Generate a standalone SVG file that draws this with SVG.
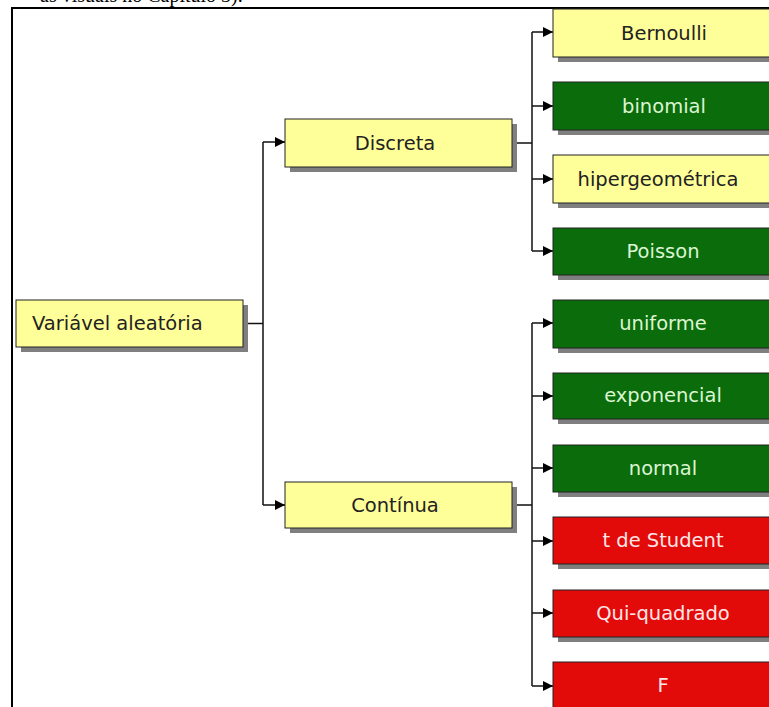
<svg xmlns="http://www.w3.org/2000/svg" width="769" height="707" viewBox="0 0 769 707">
<style>
.sh{fill:#7f7f7f}
.bx{stroke:#222;stroke-width:1}
.y{fill:#ffff99}
.g{fill:#0a6c0a}
.r{fill:#e30a0a}
.t{font-family:"DejaVu Sans",Verdana,sans-serif;font-size:19.5px}
.td{fill:#222}
.tg{fill:#dcf5d2}
.tr{fill:#ffe6e6}
.c{fill:none;stroke:#111;stroke-width:1.5}
</style>
<defs>
<marker id="ah" viewBox="0 0 10 10" refX="10" refY="5" markerWidth="12" markerHeight="10" markerUnits="userSpaceOnUse" orient="auto">
<path d="M0,0 L10,5 L0,10 z" fill="#000"/>
</marker>
</defs>
<rect width="769" height="707" fill="#fff"/>
<text x="40" y="2" style="font-family:'Liberation Serif',serif;font-size:20px" fill="#000">as visuais no Capítulo 3).</text>
<path d="M12,707 V8 H769" fill="none" stroke="#000" stroke-width="2"/>
<g id="connectors">
<path class="c" d="M243,323.5 H263 M263,142 V505 M512,143 H532 M532,32 V251 M532,323 V686 M512,505 H532"/>
<path class="c" marker-end="url(#ah)" d="M263,142 H285"/>
<path class="c" marker-end="url(#ah)" d="M263,505 H285"/>
<path class="c" marker-end="url(#ah)" d="M532,32 H553"/>
<path class="c" marker-end="url(#ah)" d="M532,106 H553"/>
<path class="c" marker-end="url(#ah)" d="M532,179 H553"/>
<path class="c" marker-end="url(#ah)" d="M532,251 H553"/>
<path class="c" marker-end="url(#ah)" d="M532,323 H553"/>
<path class="c" marker-end="url(#ah)" d="M532,396 H553"/>
<path class="c" marker-end="url(#ah)" d="M532,468 H553"/>
<path class="c" marker-end="url(#ah)" d="M532,541 H553"/>
<path class="c" marker-end="url(#ah)" d="M532,613 H553"/>
<path class="c" marker-end="url(#ah)" d="M532,686 H553"/>
</g>
<g id="n-variavel">
<rect class="sh" x="21" y="305" width="227" height="47"/>
<rect class="bx y" x="16" y="300" width="227" height="47"/>
<text class="t td" x="32" y="330">Variável aleatória</text>
</g>
<g id="n-discreta">
<rect class="sh" x="290" y="124" width="227" height="48"/>
<rect class="bx y" x="285" y="119" width="227" height="48"/>
<text class="t td" x="395" y="150" text-anchor="middle">Discreta</text>
</g>
<g id="n-continua">
<rect class="sh" x="290" y="487" width="227" height="46"/>
<rect class="bx y" x="285" y="482" width="227" height="46"/>
<text class="t td" x="395" y="512" text-anchor="middle">Contínua</text>
</g>
<g id="n-bernoulli">
<rect class="sh" x="558" y="14" width="230" height="48"/>
<rect class="bx y" x="553" y="9" width="230" height="48"/>
<text class="t td" x="664" y="40" text-anchor="middle">Bernoulli</text>
</g>
<g id="n-binomial">
<rect class="sh" x="558" y="87" width="230" height="48"/>
<rect class="bx g" x="553" y="82" width="230" height="48"/>
<text class="t tg" x="664" y="113" text-anchor="middle">binomial</text>
</g>
<g id="n-hiper">
<rect class="sh" x="558" y="160" width="230" height="48"/>
<rect class="bx y" x="553" y="155" width="230" height="48"/>
<text class="t td" x="658" y="186" text-anchor="middle">hipergeométrica</text>
</g>
<g id="n-poisson">
<rect class="sh" x="558" y="233" width="230" height="47"/>
<rect class="bx g" x="553" y="228" width="230" height="47"/>
<text class="t tg" x="663" y="258" text-anchor="middle">Poisson</text>
</g>
<g id="n-uniforme">
<rect class="sh" x="558" y="305" width="230" height="48"/>
<rect class="bx g" x="553" y="300" width="230" height="48"/>
<text class="t tg" x="663" y="330" text-anchor="middle">uniforme</text>
</g>
<g id="n-exponencial">
<rect class="sh" x="558" y="378" width="230" height="46"/>
<rect class="bx g" x="553" y="373" width="230" height="46"/>
<text class="t tg" x="663" y="402" text-anchor="middle">exponencial</text>
</g>
<g id="n-normal">
<rect class="sh" x="558" y="450" width="230" height="47"/>
<rect class="bx g" x="553" y="445" width="230" height="47"/>
<text class="t tg" x="663" y="475" text-anchor="middle">normal</text>
</g>
<g id="n-tstudent">
<rect class="sh" x="558" y="522" width="230" height="47"/>
<rect class="bx r" x="553" y="517" width="230" height="47"/>
<text class="t tr" x="663" y="547" text-anchor="middle">t de Student</text>
</g>
<g id="n-qui">
<rect class="sh" x="558" y="595" width="230" height="47"/>
<rect class="bx r" x="553" y="590" width="230" height="47"/>
<text class="t tr" x="663" y="620" text-anchor="middle">Qui-quadrado</text>
</g>
<g id="n-f">
<rect class="sh" x="558" y="667" width="230" height="47"/>
<rect class="bx r" x="553" y="662" width="230" height="47"/>
<text class="t tr" x="663" y="692" text-anchor="middle">F</text>
</g>
</svg>
